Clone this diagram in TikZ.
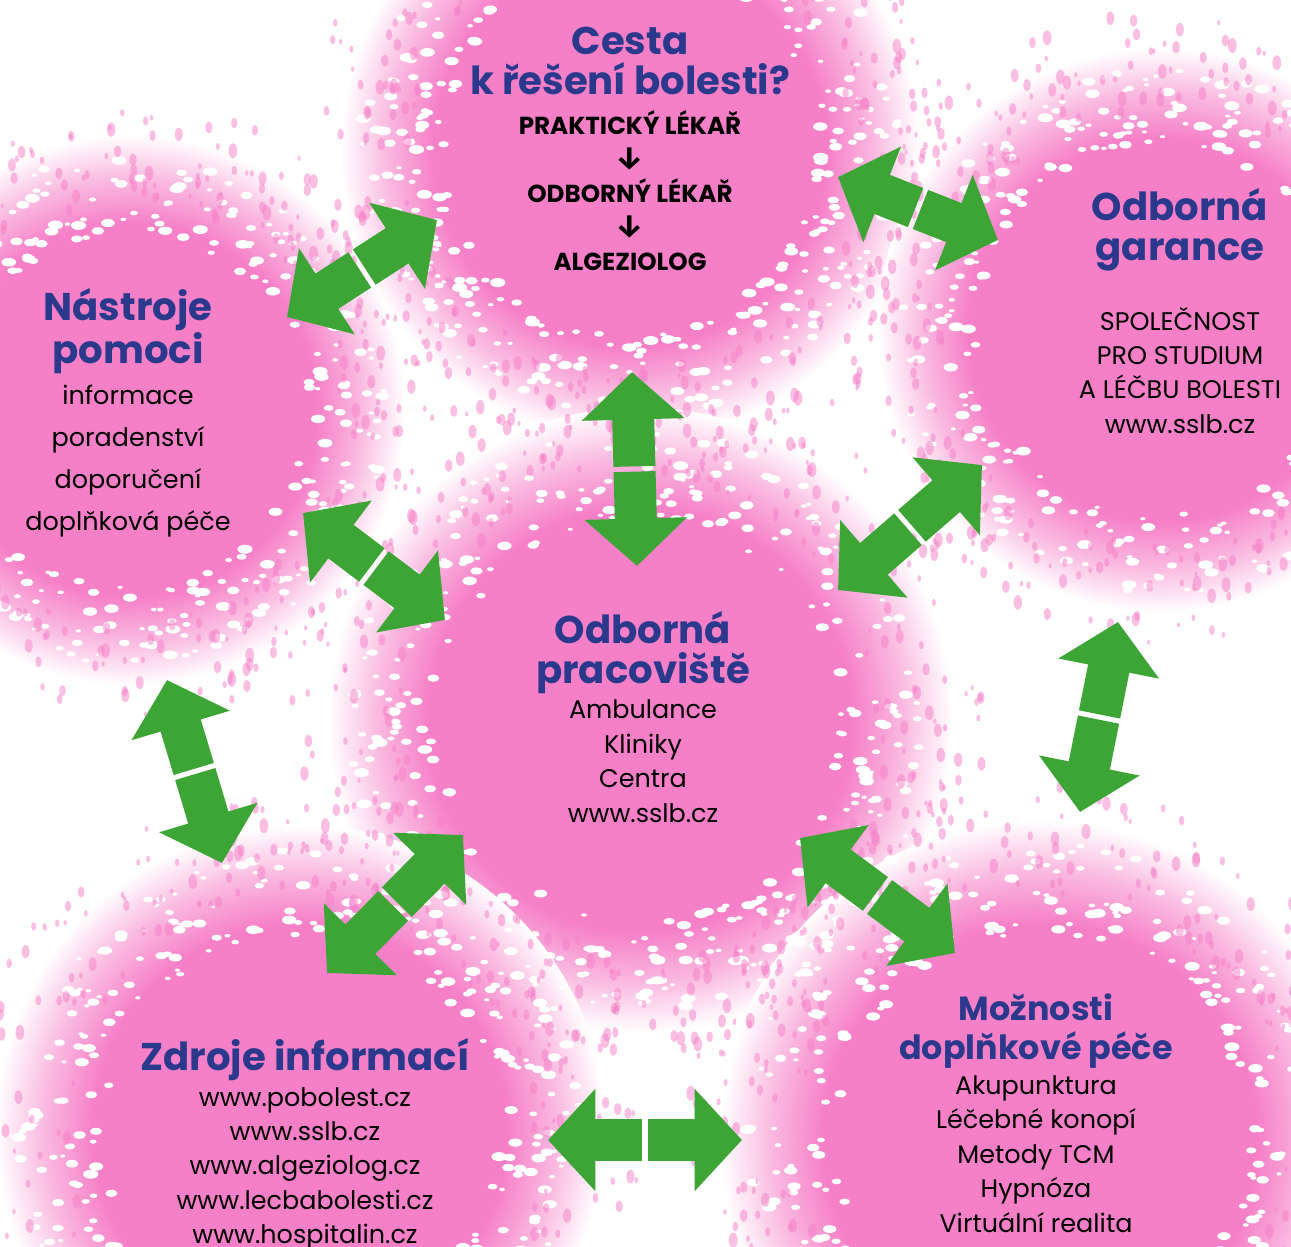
\documentclass[tikz,border=0pt]{standalone}
\usepackage{fontspec}
\setmainfont{Poppins}
\newfontfamily\symbolfont{Fira Sans}
\usetikzlibrary{positioning,calc,arrows.meta}

\definecolor{blobpink}{RGB}{246,128,200}
\definecolor{titleblue}{RGB}{43,57,140}
\definecolor{arrowgreen}{RGB}{61,165,53}

% soft pink spot, solid in the middle, fading out to white
\pgfdeclareradialshading{blobfade}{\pgfpointorigin}{color(0bp)=(blobpink); color(17bp)=(blobpink); color(21bp)=(blobpink!55!white); color(25bp)=(white); color(50bp)=(white)}

\tikzset{
  blob/.style={circle, shading=blobfade, inner sep=0pt},
  heading/.style={text=titleblue, font=\bfseries\fontsize{22}{22.7}\selectfont, align=center, inner sep=0pt},
  listing/.style={font=\fontsize{14.5}{19.6}\selectfont, align=center, inner sep=0pt},
  steps/.style={font=\bfseries\fontsize{14}{19.4}\selectfont, align=center, inner sep=0pt},
  garrow/.style={draw=arrowgreen, line width=0.84cm, -{Triangle[width=2cm,length=0.95cm]}, shorten <=1.5pt},
}
\newcommand{\stepdown}{{\symbolfont\bfseries\fontsize{18}{19.4}\selectfont ↓}}

\begin{document}
\begin{tikzpicture}[x=0.02cm, y=-0.02cm]
\useasboundingbox (0,0) rectangle (1291,1247);
\clip (0,0) rectangle (1291,1247);
\fill[white] (0,0) rectangle (1291,1247);

% pink spots
\node[blob, minimum size=11.6cm] (cesta) at (630,150) {};
\node[blob, minimum size=11.0cm] (nastroje) at (130,410) {};
\node[blob, minimum size=11.3cm] (garance) at (1160,330) {};
\node[blob, minimum size=12.5cm] (pracoviste) at (640,720) {};
\node[blob, minimum size=12.2cm] (zdroje) at (300,1130) {};
\node[blob, minimum size=12.8cm] (moznosti) at (1040,1140) {};

% ragged edges
\pgfmathsetseed{42}
\foreach \b/\r in {cesta/200, nastroje/190, garance/195, pracoviste/215, zdroje/210, moznosti/220} {
  \foreach \i in {1,...,330} {
    \pgfmathsetmacro\ang{360*rnd}
    \pgfmathsetmacro\rad{\r*(0.93+0.42*rnd)}
    \pgfmathsetmacro\sz{1.5+3*rnd}
    \fill[white] (\b.center) ++(\ang:\rad) ellipse [x radius=1.7*\sz, y radius=\sz];
  }
  \foreach \i in {1,...,330} {
    \pgfmathsetmacro\ang{360*rnd}
    \pgfmathsetmacro\rad{\r*(1.1+0.52*rnd)}
    \pgfmathsetmacro\sz{1.5+3*rnd}
    \fill[blobpink, opacity=0.5] (\b.center) ++(\ang:\rad) ellipse [x radius=\sz, y radius=1.7*\sz];
  }
}
\foreach \b/\r in {cesta/200, nastroje/190, garance/195, pracoviste/215, zdroje/210, moznosti/220}
  \fill[blobpink] (\b.center) circle [radius=0.9*\r];

% texts
\node[heading] (cestatitle) at (630,61) {Cesta\\k řešení bolesti?};
\node[steps, below=8.5pt of cestatitle] (cestasteps) {PRAKTICKÝ LÉKAŘ\\\stepdown\\ODBORNÝ LÉKAŘ\\\stepdown\\ALGEZIOLOG};

\node[heading] (nastrojetitle) at (128,331) {Nástroje\\pomoci};
\node[listing, font=\fontsize{14.5}{24}\selectfont, below=6pt of nastrojetitle] (nastrojelist) {informace\\poradenství\\doporučení\\doplňková péče};

\node[heading] (garancetitle) at (1180,230) {Odborná\\garance};
\node[listing, below=20pt of garancetitle] (garancelist) {SPOLEČNOST\\PRO STUDIUM\\A LÉČBU BOLESTI\\www.sslb.cz};

\node[heading] (pracovistetitle) at (643,653) {Odborná\\pracoviště};
\node[listing, below=3pt of pracovistetitle] (pracovistelist) {Ambulance\\Kliniky\\Centra\\www.sslb.cz};

\node[heading] (zdrojetitle) at (305,1060) {Zdroje informací};
\node[listing, below=3pt of zdrojetitle] (zdrojelist) {www.pobolest.cz\\www.sslb.cz\\www.algeziolog.cz\\www.lecbabolesti.cz\\www.hospitalin.cz};

\node[heading, font=\bfseries\fontsize{19}{22.7}\selectfont] (moznostititle) at (1036,1031) {Možnosti\\doplňkové péče};
\node[listing, below=3.5pt of moznostititle] (moznostilist) {Akupunktura\\Léčebné konopí\\Metody TCM\\Hypnóza\\Virtuální realita};

% green double arrows
\coordinate (a1) at (287,317);  \coordinate (b1) at (437,220);
\coordinate (a2) at (838,177);  \coordinate (b2) at (998,240);
\coordinate (a3) at (632,372);  \coordinate (b3) at (637,566);
\coordinate (a4) at (982,465);  \coordinate (b4) at (838,590);
\coordinate (a5) at (303,513);  \coordinate (b5) at (445,620);
\coordinate (a6) at (167,680);  \coordinate (b6) at (222,863);
\coordinate (a7) at (1118,622); \coordinate (b7) at (1080,812);
\coordinate (a8) at (463,835);  \coordinate (b8) at (327,973);
\coordinate (a9) at (800,838);  \coordinate (b9) at (955,953);
\coordinate (a10) at (548,1140); \coordinate (b10) at (742,1140);
\foreach \i in {1,...,10} {
  \draw[garrow] ($(a\i)!0.5!(b\i)$) -- (a\i);
  \draw[garrow] ($(a\i)!0.5!(b\i)$) -- (b\i);
}
\end{tikzpicture}
\end{document}
